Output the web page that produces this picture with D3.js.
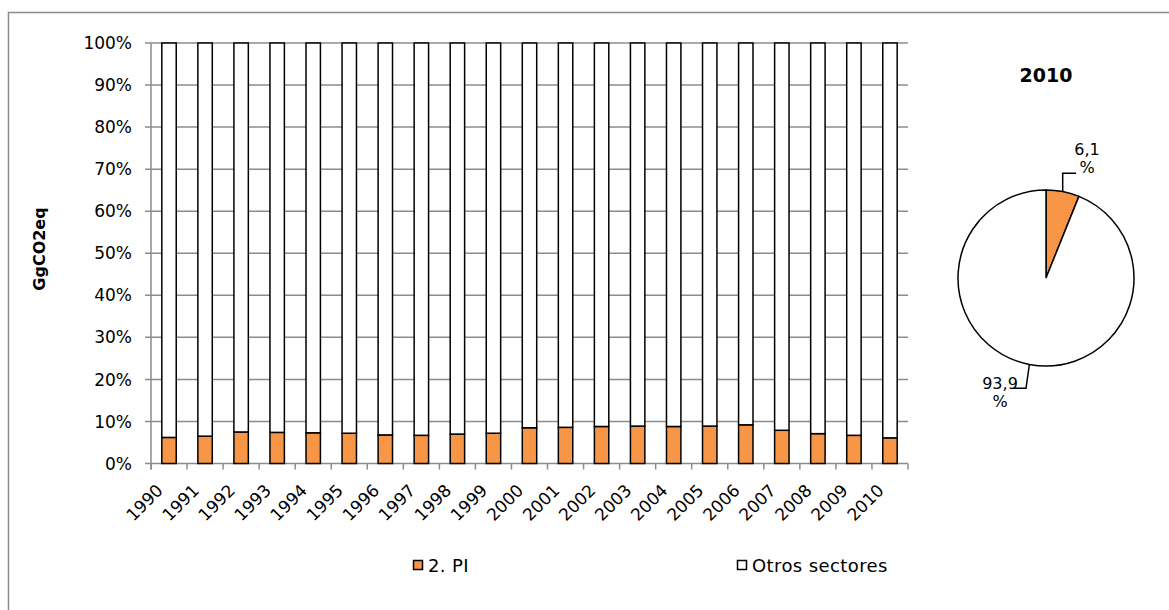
<!DOCTYPE html>
<html>
<head>
<meta charset="utf-8">
<script src="https://cdn.jsdelivr.net/npm/d3@7/dist/d3.min.js"></script>
<style>
  html, body { margin: 0; padding: 0; background: #fff; }
  svg { display: block; font-family: "DejaVu Sans", Verdana, sans-serif; }
</style>
</head>
<body>
<svg id="chart" width="1169" height="610"></svg>
<script>
const years = ["1990","1991","1992","1993","1994","1995","1996","1997","1998","1999","2000","2001","2002","2003","2004","2005","2006","2007","2008","2009","2010"];
const piShare = [6.2, 6.5, 7.5, 7.4, 7.3, 7.2, 6.8, 6.7, 7.0, 7.2, 8.5, 8.6, 8.8, 8.9, 8.8, 8.9, 9.2, 7.9, 7.1, 6.7, 6.1];
const otrosShare = piShare.map(v => 100 - v);
const yTicks = [0, 10, 20, 30, 40, 50, 60, 70, 80, 90, 100];
const seriesNames = ["2. PI", "Otros sectores"];
const seriesColors = ["#F79646", "#FFFFFF"];
const pieTitle = "2010";
const pieValues = [6.1, 93.9];
const pieLabels = ["6,1", "93,9"];
const yTitle = "GgCO2eq";

const svg = d3.select("#chart");
const gridColor = "#8c8c8c";

// outer border (left & top visible)
svg.append("rect").attr("x", 8.5).attr("y", 12.5).attr("width", 1300).attr("height", 800)
  .attr("fill", "none").attr("stroke", "#8c8c8c").attr("stroke-width", 1.5);

const plot = { left: 151, right: 908, top: 43, bottom: 463.5 };

const x = d3.scaleBand().domain(years).range([plot.left, plot.right]).paddingInner(0.6).paddingOuter(0.3);
const y = d3.scaleLinear().domain([0, 100]).range([plot.bottom, plot.top]);

// gridlines
svg.append("g").selectAll("line").data(yTicks).join("line")
  .attr("x1", plot.left - 6).attr("x2", plot.right)
  .attr("y1", d => y(d)).attr("y2", d => y(d))
  .attr("stroke", gridColor).attr("stroke-width", 1.5);

// y axis line
svg.append("line").attr("x1", plot.left).attr("x2", plot.left)
  .attr("y1", plot.top).attr("y2", plot.bottom + 6)
  .attr("stroke", gridColor).attr("stroke-width", 1.5);

// x ticks between categories
const xStep = (plot.right - plot.left) / years.length;
const xTickPos = d3.range(years.length + 1).map(i => plot.left + i * xStep);
svg.append("g").selectAll("line").data(xTickPos).join("line")
  .attr("x1", d => d).attr("x2", d => d)
  .attr("y1", plot.bottom).attr("y2", plot.bottom + 6)
  .attr("stroke", gridColor).attr("stroke-width", 1.5);

// y tick labels
svg.append("g").selectAll("text").data(yTicks).join("text")
  .attr("x", 132).attr("y", d => y(d)).attr("dy", "0.36em")
  .attr("text-anchor", "end").attr("font-size", 17).attr("fill", "#000")
  .text(d => d + "%");

// bars
const stack = years.map((yr, i) => ({ year: yr, vals: [piShare[i], otrosShare[i]] }));
const barG = svg.append("g");
stack.forEach(d => {
  let base = 0;
  d.vals.forEach((v, k) => {
    barG.append("rect")
      .attr("x", x(d.year)).attr("width", x.bandwidth())
      .attr("y", y(base + v)).attr("height", y(base) - y(base + v))
      .attr("fill", seriesColors[k]).attr("stroke", "#000").attr("stroke-width", 1.5);
    base += v;
  });
});

// x labels rotated
svg.append("g").selectAll("text").data(years).join("text")
  .attr("text-anchor", "end").attr("font-size", 17)
  .attr("transform", d => `translate(${x(d) + x.bandwidth() / 2 - 5},${plot.bottom + 28}) rotate(-45)`)
  .text(d => d);

// y title
svg.append("text").attr("transform", `translate(45,249) rotate(-90)`)
  .attr("text-anchor", "middle").attr("font-size", 16).attr("font-weight", "bold")
  .text(yTitle);

// legend
const legendItems = [{ name: seriesNames[0], color: seriesColors[0], sx: 413, tx: 428 },
                     { name: seriesNames[1], color: seriesColors[1], sx: 737, tx: 752 }];
legendItems.forEach(it => {
  svg.append("rect").attr("x", it.sx + 0.5).attr("y", 560.5).attr("width", 9).attr("height", 9)
    .attr("fill", it.color).attr("stroke", "#000").attr("stroke-width", 1.5);
  svg.append("text").attr("x", it.tx).attr("y", 572).attr("font-size", 18)
    .attr("letter-spacing", 0.4).text(it.name);
});

// pie
const cx = 1046, cy = 278, r = 88;
svg.append("text").attr("x", cx).attr("y", 82).attr("text-anchor", "middle")
  .attr("font-size", 19).attr("font-weight", "bold").text(pieTitle);
const pie = d3.pie().sort(null)(pieValues);
const arc = d3.arc().innerRadius(0).outerRadius(r);
const pg = svg.append("g").attr("transform", `translate(${cx},${cy})`);
pg.selectAll("path").data(pie).join("path")
  .attr("d", arc).attr("fill", (d, i) => seriesColors[i])
  .attr("stroke", "#000").attr("stroke-width", 1.5);

// leader lines & labels
const labelCfg = [
  { pts: [[1062.7, 191], [1062.7, 173.3], [1076, 173.3]], tx: 1087, ty: 155 },
  { pts: [[1029.3, 365], [1026, 388.3], [1014, 388.3]], tx: 1000, ty: 389 }
];
labelCfg.forEach((c, i) => {
  svg.append("path").attr("d", d3.line()(c.pts)).attr("fill", "none")
    .attr("stroke", "#000").attr("stroke-width", 1.5);
  svg.append("text").attr("x", c.tx).attr("y", c.ty).attr("text-anchor", "middle")
    .attr("font-size", 16).text(pieLabels[i]);
  svg.append("text").attr("x", c.tx).attr("y", c.ty + 18).attr("text-anchor", "middle")
    .attr("font-size", 16).text("%");
});
</script>
</body>
</html>
